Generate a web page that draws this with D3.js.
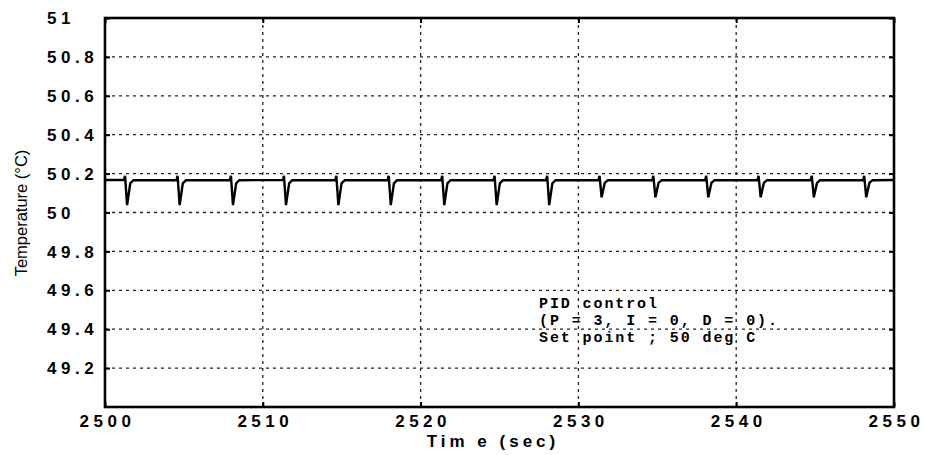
<!DOCTYPE html>
<html>
<head>
<meta charset="utf-8">
<script src="https://cdn.jsdelivr.net/npm/d3@7"></script>
<style>
  body { margin: 0; background: #fff; }
  svg { display: block; }
</style>
</head>
<body>
<div id="chart"></div>
<script>
// tick values
const xTicks = [2500, 2510, 2520, 2530, 2540, 2550]
const yTicks = [49.2, 49.4, 49.6, 49.8, 50, 50.2, 50.4, 50.6, 50.8, 51]

// recorded temperature (sec, deg C)
const times = [
  2500.00,
  2501.20, 2501.27, 2501.40, 2501.60, 2501.80,
  2504.53, 2504.60, 2504.73, 2504.93, 2505.13,
  2507.91, 2507.98, 2508.11, 2508.31, 2508.51,
  2511.27, 2511.34, 2511.47, 2511.67, 2511.87,
  2514.59, 2514.66, 2514.79, 2514.99, 2515.19,
  2517.91, 2517.98, 2518.11, 2518.31, 2518.51,
  2521.30, 2521.37, 2521.50, 2521.70, 2521.90,
  2524.62, 2524.69, 2524.82, 2525.02, 2525.22,
  2527.95, 2528.02, 2528.15, 2528.35, 2528.55,
  2531.27, 2531.34, 2531.47, 2531.67, 2531.87,
  2534.68, 2534.75, 2534.88, 2535.08, 2535.28,
  2538.03, 2538.10, 2538.23, 2538.43, 2538.63,
  2541.35, 2541.42, 2541.55, 2541.75, 2541.95,
  2544.72, 2544.79, 2544.92, 2545.12, 2545.32,
  2548.04, 2548.11, 2548.24, 2548.44, 2548.64,
  2550.00
]
const temps = [
  50.167,
  50.167, 50.188, 50.038, 50.150, 50.166,
  50.167, 50.188, 50.038, 50.150, 50.166,
  50.167, 50.188, 50.038, 50.150, 50.166,
  50.167, 50.188, 50.038, 50.150, 50.166,
  50.167, 50.188, 50.038, 50.150, 50.166,
  50.167, 50.188, 50.038, 50.150, 50.166,
  50.167, 50.188, 50.038, 50.150, 50.166,
  50.167, 50.188, 50.038, 50.150, 50.166,
  50.167, 50.188, 50.038, 50.150, 50.166,
  50.167, 50.188, 50.078, 50.152, 50.166,
  50.167, 50.188, 50.078, 50.152, 50.166,
  50.167, 50.188, 50.078, 50.152, 50.166,
  50.167, 50.188, 50.078, 50.152, 50.166,
  50.167, 50.188, 50.078, 50.152, 50.166,
  50.167, 50.188, 50.078, 50.152, 50.166,
  50.167
]

const notes = ['PID control', '(P = 3, I = 0, D = 0).', 'Set point ; 50 deg C']

const width = 925
const height = 455
const margin = { top: 18, right: 31, bottom: 48, left: 105 }

const svg = d3.select('#chart')
  .append('svg')
  .attr('width', width)
  .attr('height', height)

const x = d3.scaleLinear()
  .domain([2500, 2550])
  .range([margin.left, width - margin.right])

const y = d3.scaleLinear()
  .domain([49, 51])
  .range([height - margin.bottom, margin.top])

const plotW = width - margin.left - margin.right
const plotH = height - margin.top - margin.bottom

// dotted grid
svg.append('g')
  .selectAll('line')
  .data(xTicks.slice(1, -1))
  .join('line')
  .attr('x1', d => x(d)).attr('x2', d => x(d))
  .attr('y1', margin.top).attr('y2', height - margin.bottom)
  .attr('stroke', '#222')
  .attr('stroke-width', 1.3)
  .attr('stroke-dasharray', '3,4')

svg.append('g')
  .selectAll('line')
  .data(yTicks.slice(0, -1))
  .join('line')
  .attr('x1', margin.left).attr('x2', width - margin.right)
  .attr('y1', d => y(d)).attr('y2', d => y(d))
  .attr('stroke', '#222')
  .attr('stroke-width', 1.3)
  .attr('stroke-dasharray', '3,4')

// small inward ticks
svg.append('g')
  .attr('transform', `translate(${margin.left},0)`)
  .call(d3.axisRight(y).tickValues(yTicks).tickSize(5).tickFormat(''))
  .call(g => g.select('.domain').remove())
  .selectAll('line').attr('stroke-width', 2)

svg.append('g')
  .attr('transform', `translate(${width - margin.right},0)`)
  .call(d3.axisLeft(y).tickValues(yTicks).tickSize(5).tickFormat(''))
  .call(g => g.select('.domain').remove())
  .selectAll('line').attr('stroke-width', 2)

svg.append('g')
  .attr('transform', `translate(0,${height - margin.bottom})`)
  .call(d3.axisTop(x).tickValues(xTicks).tickSize(5).tickFormat(''))
  .call(g => g.select('.domain').remove())
  .selectAll('line').attr('stroke-width', 2)

svg.append('g')
  .attr('transform', `translate(0,${margin.top})`)
  .call(d3.axisBottom(x).tickValues(xTicks).tickSize(5).tickFormat(''))
  .call(g => g.select('.domain').remove())
  .selectAll('line').attr('stroke-width', 2)

// frame
svg.append('rect')
  .attr('x', margin.left)
  .attr('y', margin.top)
  .attr('width', plotW)
  .attr('height', plotH)
  .attr('fill', 'none')
  .attr('stroke', '#000')
  .attr('stroke-width', 2.6)

// tick labels (left aligned, wide spacing)
svg.append('g')
  .selectAll('text')
  .data(yTicks)
  .join('text')
  .attr('x', 47)
  .attr('y', d => y(d))
  .attr('dy', '0.36em')
  .attr('font-family', 'Liberation Sans, Arial, sans-serif')
  .attr('font-weight', 'bold')
  .attr('font-size', 17)
  .attr('letter-spacing', 4.5)
  .attr('fill', '#000')
  .text(d => String(+d.toFixed(1)))

svg.append('g')
  .selectAll('text')
  .data(xTicks)
  .join('text')
  .attr('x', d => x(d) + 2.5)
  .attr('y', height - margin.bottom + 20)
  .attr('text-anchor', 'middle')
  .attr('font-family', 'Liberation Sans, Arial, sans-serif')
  .attr('font-weight', 'bold')
  .attr('font-size', 17)
  .attr('letter-spacing', 4.5)
  .attr('fill', '#000')
  .text(d => d)

// axis titles
svg.append('text')
  .attr('x', 493)
  .attr('y', 447)
  .attr('text-anchor', 'middle')
  .attr('font-family', 'Liberation Sans, Arial, sans-serif')
  .attr('font-weight', 'bold')
  .attr('font-size', 17)
  .attr('letter-spacing', 4)
  .text('Tim e (sec)')

svg.append('text')
  .attr('transform', 'translate(27,213) rotate(-90)')
  .attr('text-anchor', 'middle')
  .attr('font-family', 'Liberation Sans, Arial, sans-serif')
  .attr('font-size', 16.5)
  .text('Temperature (°C)')

// temperature trace
const line = d3.line()
  .x((d, i) => x(times[i]))
  .y(d => y(d))

svg.append('path')
  .datum(temps)
  .attr('d', line)
  .attr('fill', 'none')
  .attr('stroke', '#000')
  .attr('stroke-width', 2.4)
  .attr('stroke-linejoin', 'miter')
  .attr('stroke-miterlimit', 3)

// annotation
svg.append('g')
  .selectAll('text')
  .data(notes)
  .join('text')
  .attr('x', 539)
  .attr('y', (d, i) => 308 + i * 17)
  .attr('font-family', 'Liberation Mono, monospace')
  .attr('font-weight', 'bold')
  .attr('font-size', 15)
  .attr('letter-spacing', 1.9)
  .attr('fill', '#000')
  .text(d => d)
</script>
</body>
</html>
